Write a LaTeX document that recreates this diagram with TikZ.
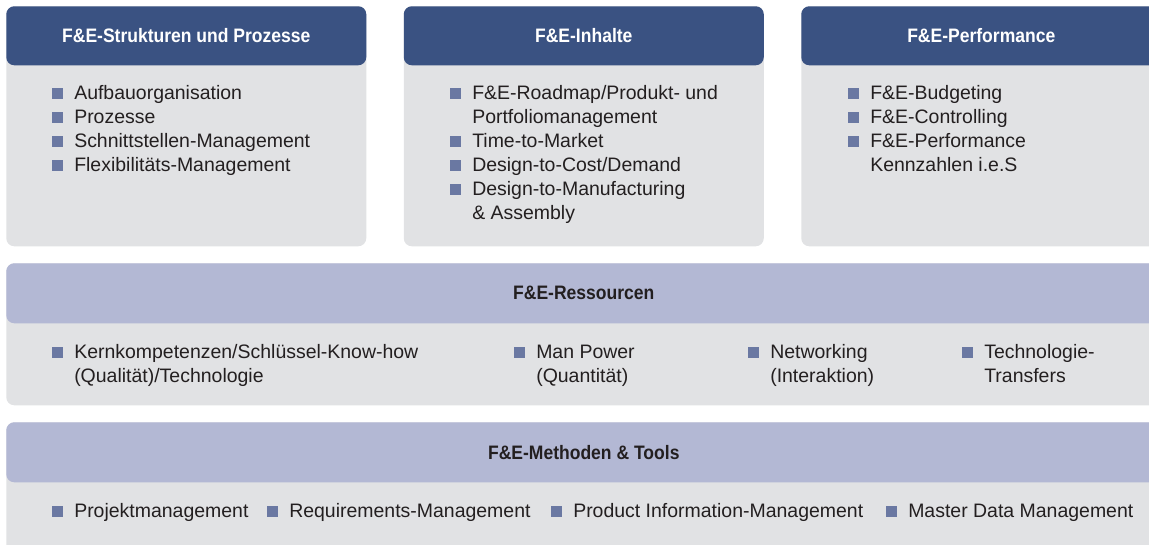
\documentclass[tikz,border=0pt]{standalone}
\usepackage{fontspec}
\setmainfont{Liberation Sans}[BoldFeatures={FakeStretch=0.9}]

\definecolor{headblue}{HTML}{3A5282}
\definecolor{headlight}{HTML}{B3B8D4}
\definecolor{bodygray}{HTML}{E1E2E4}
\definecolor{bulcol}{HTML}{6A78A2}
\definecolor{txtgray}{HTML}{231F20}

\newcommand\bulsq{\makebox[16.5pt][l]{\textcolor{bulcol}{\rule{8.25pt}{8.25pt}}}}
\newcommand\contline{\hspace*{16.5pt}}

\begin{document}
\begin{tikzpicture}[
    x=0.75pt, y=-0.75pt,
    font=\fontsize{14.6pt}{18pt}\selectfont,
    text=txtgray,
	body/.style={
	  rectangle,
	  rounded corners=6pt,
	  inner sep=0pt,
	  anchor=north west,
	  fill=bodygray
	},
	colbody/.style={
	  body,
	  minimum width=270pt,
	  minimum height=180pt
	},
	rowbody/.style={
	  body,
	  minimum width=866.25pt
	},
	head/.style={
	  rectangle,
	  rounded corners=6pt,
	  inner sep=0pt,
	  anchor=north west,
	  font=\fontsize{14.6pt}{18pt}\selectfont\bfseries
	},
	darkhead/.style={
	  head,
	  minimum width=270pt,
	  minimum height=44.25pt,
	  fill=headblue,
	  text=white
	},
	lighthead/.style={
	  head,
	  minimum width=866.25pt,
	  minimum height=45pt,
	  fill=headlight
	},
	% Anker: Grundlinie der letzten Zeile
	items/.style={anchor=base west, align=left, inner sep=0pt}
	]
	\useasboundingbox (0,0) rectangle (1149,544);
	% obere Spalten
	\node at (6, 6) [colbody] (strukbody) {};
	\node at (6, 6) [darkhead] (strukhead) {F\&E-Strukturen und Prozesse};
	\node at (403.5, 6) [colbody] (inhbody) {};
	\node at (403.5, 6) [darkhead] (inhhead) {F\&E-Inhalte};
	\node at (801, 6) [colbody] (perfbody) {};
	\node at (801, 6) [darkhead] (perfhead) {F\&E-Performance};
	\node at (52, 171) [items] (strukitems) {\bulsq Aufbauorganisation\\ \bulsq Prozesse\\ \bulsq Schnittstellen-Management\\ \bulsq Flexibilitäts-Management};
	\node at (450, 219) [items] (inhitems) {\bulsq F\&E-Roadmap/Produkt- und\\ \contline Portfoliomanagement\\ \bulsq Time-to-Market\\ \bulsq Design-to-Cost/Demand\\ \bulsq Design-to-Manufacturing\\ \contline \& Assembly};
	\node at (848, 171) [items] (perfitems) {\bulsq F\&E-Budgeting\\ \bulsq F\&E-Controlling\\ \bulsq F\&E-Performance\\ \contline Kennzahlen i.e.S};
	% Ressourcen
	\node at (6, 263) [rowbody, minimum height=106.5pt] (resbody) {};
	\node at (6, 263) [lighthead] (reshead) {F\&E-Ressourcen};
	\node at (52, 382) [items] (reskern) {\bulsq Kernkompetenzen/Schlüssel-Know-how\\ \contline (Qualität)/Technologie};
	\node at (514, 382) [items] (resman) {\bulsq Man Power\\ \contline (Quantität)};
	\node at (748, 382) [items] (resnet) {\bulsq Networking\\ \contline (Interaktion)};
	\node at (962, 382) [items] (restrans) {\bulsq Technologie-\\ \contline Transfers};
	% Methoden & Tools
	\node at (6, 422) [rowbody, minimum height=105pt] (methbody) {};
	\node at (6, 422) [lighthead] (methhead) {F\&E-Methoden \& Tools};
	\node at (52, 517) [items] (methprojekt) {\bulsq Projektmanagement};
	\node at (267, 517) [items] (methreq) {\bulsq Requirements-Management};
	\node at (551, 517) [items] (methpim) {\bulsq Product Information-Management};
	\node at (886, 517) [items] (methmdm) {\bulsq Master Data Management};
  \end{tikzpicture}
\end{document}
